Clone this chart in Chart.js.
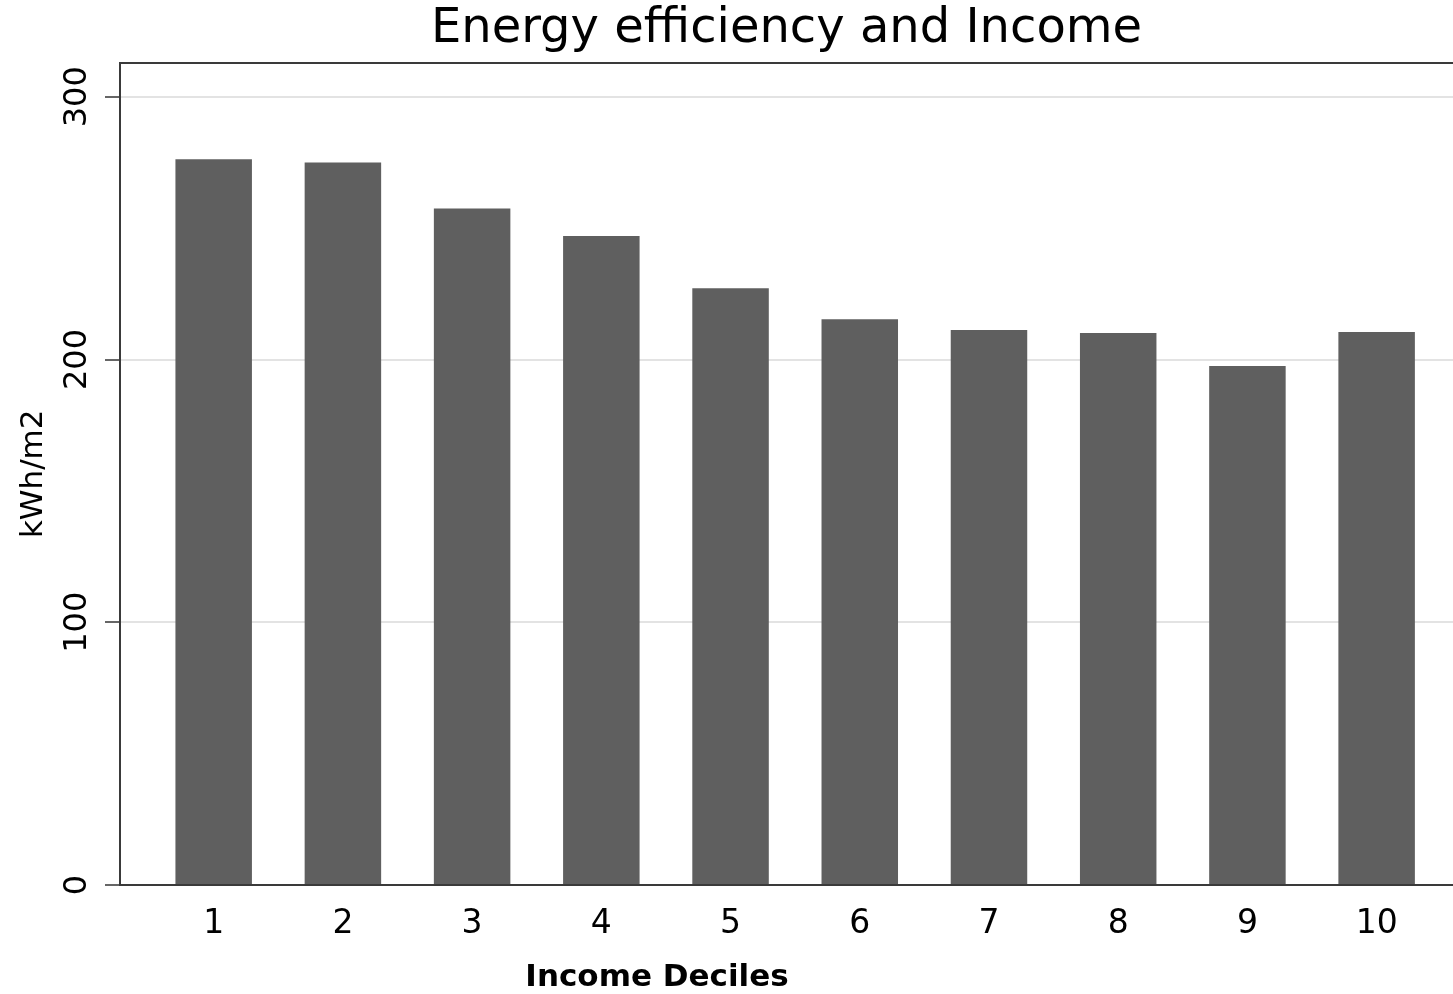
<!DOCTYPE html>
<html>
<head>
<meta charset="utf-8">
<script src="https://cdn.jsdelivr.net/npm/chart.js@4/dist/chart.umd.min.js"></script>
<style>
  html, body { margin: 0; padding: 0; background: #fff; }
  #wrap { width: 1453px; height: 994px; }
</style>
</head>
<body>
<div id="wrap"><canvas id="efficiencyChart"></canvas></div>
<script>
var deciles = [1, 2, 3, 4, 5, 6, 7, 8, 9, 10];
var kwhPerM2 = [276.2, 275.0, 257.5, 247.0, 227.1, 215.3, 211.2, 210.1, 197.5, 210.5];
var yTicks = [0, 100, 200, 300];
var chartTitle = 'Energy efficiency and Income';
var xTitle = 'Income Deciles';
var yTitle = 'kWh/m2';

Chart.defaults.font.family = '"DejaVu Sans", sans-serif';
Chart.defaults.color = '#000';

// the x title sits left of the plot centre in the original, so it is drawn by hand
var xTitlePlugin = {
    id: 'xTitle',
    afterDraw: function (chart) {
        var ctx = chart.ctx;
        ctx.save();
        ctx.font = 'bold 31px "DejaVu Sans"';
        ctx.fillStyle = '#000';
        ctx.textAlign = 'center';
        ctx.textBaseline = 'middle';
        ctx.fillText(xTitle, chart.chartArea.left + 537, chart.chartArea.bottom + 93);
        ctx.restore();
    }
};

var canvas = document.getElementById('efficiencyChart');
var efficiencyChart = new Chart(canvas, {
    type: 'bar',
    data: {
        datasets: [{
            data: deciles.map(function (d, i) { return { x: d, y: kwhPerM2[i] }; }),
            backgroundColor: '#5f5f5f',
            borderWidth: 0,
            categoryPercentage: 1,
            barPercentage: 0.592
        }]
    },
    options: {
        responsive: true,
        maintainAspectRatio: false,
        animation: false,
        layout: {
            padding: { top: 0, left: 0, right: 0, bottom: 29.4 }
        },
        plugins: {
            legend: { display: false },
            tooltip: { enabled: false },
            title: {
                display: true,
                text: chartTitle,
                fullSize: false,
                color: '#000',
                font: { size: 48, weight: 'normal', lineHeight: 1.1 },
                padding: { top: 3.1, bottom: 6.7 }
            }
        },
        scales: {
            x: {
                type: 'linear',
                position: 'bottom',
                min: 0.275,
                max: 10.591,
                offset: false,
                afterBuildTicks: function (scale) {
                    scale.ticks = deciles.map(function (d) { return { value: d }; });
                },
                grid: { display: false, offset: false, drawTicks: false },
                border: { display: true, color: '#3a3a3a', width: 2 },
                ticks: {
                    font: { size: 33 },
                    color: '#000',
                    padding: 20,
                    maxRotation: 0,
                    autoSkip: false
                }
            },
            xTop: {
                type: 'linear',
                position: 'top',
                grid: { display: false, drawTicks: false },
                border: { display: true, color: '#3a3a3a', width: 2 },
                ticks: { display: false }
            },
            y: {
                min: 0,
                max: 313,
                afterBuildTicks: function (scale) {
                    scale.ticks = yTicks.map(function (v) { return { value: v }; });
                },
                grid: {
                    color: function (c) { return c.tick && c.tick.value === 0 ? 'rgba(0,0,0,0)' : '#e3e3e3'; },
                    lineWidth: 2,
                    tickColor: '#666',
                    tickLength: 15,
                    drawTicks: true
                },
                border: { display: true, color: '#3a3a3a', width: 2 },
                ticks: {
                    font: { size: 32 },
                    color: '#000',
                    minRotation: 90,
                    maxRotation: 90,
                    crossAlign: 'center',
                    padding: -3.5
                },
                title: {
                    display: true,
                    text: yTitle,
                    color: '#000',
                    font: { size: 31 },
                    padding: { top: 15.4, bottom: 21 }
                }
            }
        }
    },
    plugins: [xTitlePlugin]
});
</script>
</body>
</html>
